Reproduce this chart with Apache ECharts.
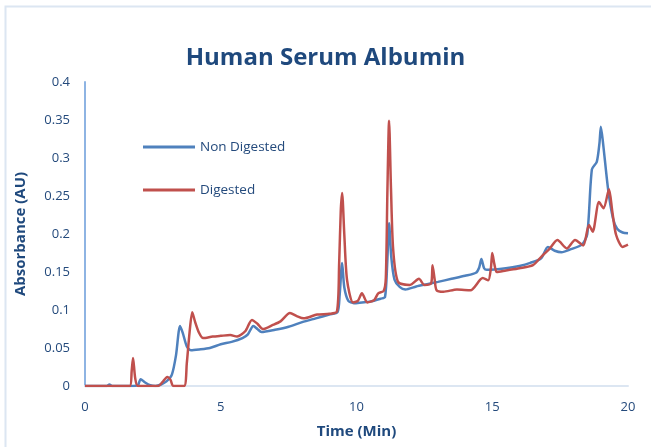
<!DOCTYPE html>
<html>
<head>
<meta charset="utf-8">
<script src="https://cdn.jsdelivr.net/npm/echarts@6/dist/echarts.min.js"></script>
<style>
html,body{margin:0;padding:0;background:#fff;}
#chart{width:651px;height:447px;}
</style>
</head>
<body>
<div id="chart"></div>
<script>
// Non Digested (blue)
var blueTime = [0, 0.8, 0.9, 1.0, 1.8, 1.95, 2.05, 2.2, 2.4, 2.6, 2.8, 3.0, 3.2, 3.35, 3.5, 3.6, 3.75, 3.9, 4.2, 4.6, 5.0, 5.4, 5.8, 6.0, 6.2, 6.35, 6.5, 7.0, 7.5, 8.0, 8.5, 9.0, 9.3, 9.38, 9.47, 9.55, 9.7, 9.9, 10.2, 10.5, 10.9, 11.05, 11.13, 11.2, 11.28, 11.4, 11.6, 11.8, 12.2, 12.6, 13.0, 13.5, 14.0, 14.4, 14.52, 14.6, 14.7, 14.8, 15.5, 16.0, 16.4, 16.8, 17.05, 17.3, 17.55, 17.9, 18.3, 18.5, 18.67, 18.85, 18.95, 19.0, 19.08, 19.27, 19.45, 19.6, 19.8, 20];
var blueAbs  = [0, 0, 0.002, 0, 0, 0.001, 0.009, 0.005, 0.001, 0, 0.002, 0.006, 0.015, 0.04, 0.079, 0.07, 0.052, 0.047, 0.048, 0.05, 0.055, 0.058, 0.063, 0.068, 0.079, 0.075, 0.071, 0.074, 0.078, 0.084, 0.089, 0.094, 0.097, 0.12, 0.162, 0.13, 0.112, 0.109, 0.11, 0.111, 0.115, 0.117, 0.16, 0.214, 0.17, 0.14, 0.13, 0.127, 0.131, 0.134, 0.137, 0.141, 0.145, 0.149, 0.156, 0.167, 0.155, 0.153, 0.155, 0.158, 0.162, 0.168, 0.183, 0.178, 0.176, 0.18, 0.186, 0.2, 0.285, 0.295, 0.32, 0.341, 0.32, 0.258, 0.22, 0.207, 0.202, 0.201];

// Digested (red)
var redTime = [0, 1.65, 1.72, 1.77, 1.85, 1.95, 2.7, 2.85, 3.03, 3.15, 3.25, 3.65, 3.75, 3.85, 3.95, 4.05, 4.2, 4.35, 4.7, 5.0, 5.35, 5.6, 5.9, 6.15, 6.35, 6.55, 6.9, 7.2, 7.55, 7.8, 8.05, 8.55, 9.0, 9.28, 9.36, 9.42, 9.47, 9.55, 9.65, 9.87, 10.05, 10.2, 10.4, 10.65, 10.8, 11.0, 11.08, 11.14, 11.2, 11.27, 11.35, 11.53, 11.97, 12.3, 12.5, 12.75, 12.8, 12.88, 12.95, 13.2, 13.7, 14.2, 14.65, 14.85, 14.95, 15.0, 15.08, 15.17, 15.5, 16.0, 16.5, 16.83, 17.1, 17.4, 17.75, 18.05, 18.35, 18.56, 18.7, 18.93, 19.1, 19.3, 19.42, 19.56, 19.8, 20];
var redAbs  = [0, 0, 0.02, 0.037, 0.01, 0, 0, 0.005, 0.012, 0.008, 0, 0, 0.03, 0.07, 0.097, 0.085, 0.07, 0.063, 0.065, 0.066, 0.067, 0.065, 0.072, 0.087, 0.082, 0.075, 0.08, 0.085, 0.096, 0.092, 0.089, 0.094, 0.095, 0.098, 0.16, 0.23, 0.254, 0.2, 0.14, 0.11, 0.112, 0.122, 0.11, 0.113, 0.122, 0.125, 0.142, 0.26, 0.349, 0.26, 0.18, 0.137, 0.133, 0.141, 0.133, 0.135, 0.159, 0.14, 0.126, 0.124, 0.127, 0.126, 0.142, 0.139, 0.155, 0.175, 0.16, 0.15, 0.152, 0.155, 0.159, 0.171, 0.18, 0.192, 0.181, 0.192, 0.185, 0.212, 0.203, 0.242, 0.234, 0.259, 0.23, 0.199, 0.183, 0.186];

var seriesNames = ['Non Digested', 'Digested'];
var xTicks = {min: 0, max: 20, interval: 5};
var yTicks = {min: 0, max: 0.4, interval: 0.05};

function pairs(xs, ys) { return xs.map(function (x, i) { return [x, ys[i]]; }); }

var textColor = '#244A7C';
var font = '"Open Sans", "Liberation Sans", sans-serif';

var chart = echarts.init(document.getElementById('chart'), null, {renderer: 'canvas'});
chart.setOption({
  animation: false,
  backgroundColor: '#ffffff',
  title: {
    text: 'Human Serum Albumin',
    left: 'center',
    top: 41,
    textStyle: {fontFamily: font, fontSize: 24, fontWeight: 'bold', color: '#1F497D'}
  },
  graphic: [{
    type: 'rect', shape: {x: 5.5, y: 6.5, width: 700, height: 500},
    style: {fill: 'none', stroke: '#DCE6F2', lineWidth: 2}, silent: true
  }],
  legend: {
    orient: 'vertical', left: 143, top: 140, itemGap: 29, padding: 0,
    itemWidth: 52, itemHeight: 3, icon: 'rect',
    textStyle: {fontFamily: font, fontSize: 13.5, color: textColor},
    data: seriesNames
  },
  grid: {left: 85, right: 23, top: 82, bottom: 61, containLabel: false},
  xAxis: {
    type: 'value', min: xTicks.min, max: xTicks.max, interval: xTicks.interval,
    name: 'Time (Min)', nameLocation: 'middle', nameGap: 38,
    nameTextStyle: {fontFamily: font, fontSize: 15, fontWeight: 'bold', color: '#1F497D'},
    axisLine: {show: true, onZero: false, lineStyle: {color: '#DCE6F2', width: 2}},
    axisTick: {show: false}, splitLine: {show: false},
    axisLabel: {fontFamily: font, fontSize: 13, color: textColor, margin: 15}
  },
  yAxis: {
    type: 'value', min: yTicks.min, max: yTicks.max, interval: yTicks.interval,
    name: 'Absorbance (AU)', nameLocation: 'middle', nameGap: 57, nameRotate: 90,
    nameTextStyle: {fontFamily: font, fontSize: 15, fontWeight: 'bold', color: '#1F497D'},
    axisLine: {show: true, lineStyle: {color: '#8EB4E3', width: 2}},
    axisTick: {show: false}, splitLine: {show: false},
    axisLabel: {fontFamily: font, fontSize: 13, color: textColor, margin: 15}
  },
  series: [{
    name: seriesNames[0], type: 'line', data: pairs(blueTime, blueAbs),
    showSymbol: false, smooth: 0.25, color: '#4F81BD',
    lineStyle: {width: 2.5, color: '#4F81BD'}
  }, {
    name: seriesNames[1], type: 'line', data: pairs(redTime, redAbs),
    showSymbol: false, smooth: 0.25, color: '#C0504D',
    lineStyle: {width: 2.5, color: '#C0504D'}
  }]
});
</script>
</body>
</html>
